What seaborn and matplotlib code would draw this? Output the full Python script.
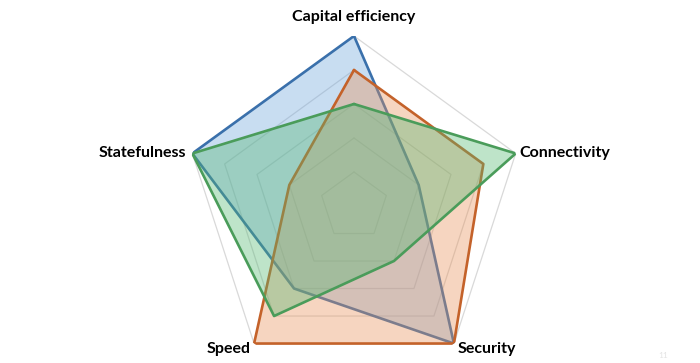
import numpy as np
import pandas as pd
import matplotlib
matplotlib.use("Agg")
import matplotlib.pyplot as plt
import seaborn as sns

categories = ["Capital efficiency", "Connectivity", "Security", "Speed", "Statefulness"]
series_names = ["A", "B", "C"]
values_a = [5, 2, 5, 3, 5]
values_b = [4, 4, 5, 5, 2]
values_c = [3, 5, 2, 4, 5]
grid_levels = [1, 2, 3, 4, 5]

line_colors = ["#3A70AB", "#C4622A", "#4A9C5A"]
fill_colors = ["#6FA6DC", "#E8925A", "#55B873"]

sns.set_style("white")
plt.rcParams["font.family"] = ["Lato", "DejaVu Sans"]

n = len(categories)
angles = np.linspace(0, 2 * np.pi, n, endpoint=False)

rows = []
for name, vals in zip(series_names, [values_a, values_b, values_c]):
    for i, (a, v) in enumerate(zip(list(angles) + [2 * np.pi], list(vals) + [vals[0]])):
        rows.append({"series": name, "theta": a, "value": v, "order": i})
df = pd.DataFrame(rows)

fig = plt.figure(figsize=(7.0, 3.63), dpi=100)
ax = fig.add_axes([184 / 700, (363 - 376) / 363, 340 / 700, 340 / 363], projection="polar")
ax.set_theta_offset(np.pi / 2)
ax.set_theta_direction(-1)
ax.set_ylim(0, 5)
ax.grid(False)
ax.spines["polar"].set_visible(False)
ax.patch.set_alpha(0)

closed = np.append(angles, angles[0])
for lv in grid_levels:
    ax.plot(closed, [lv] * (n + 1), color="#D9D9D9", lw=0.9, zorder=1)

for k, name in enumerate(series_names):
    sub = df[df["series"] == name]
    ax.fill(sub["theta"], sub["value"], color=fill_colors[k], alpha=0.38, lw=0, zorder=2 + 2 * k)
    sns.lineplot(data=sub, x="theta", y="value", sort=False, estimator=None, color=line_colors[k],
                 lw=1.9, ax=ax, legend=False, zorder=3 + 2 * k)
ax.set_xlabel("")
ax.set_ylabel("")
ax.set_xticks([])
ax.set_yticks([])
ax.set_ylim(0, 5)

label_specs = [
    ((0, 19), "center", "center"),
    ((4, 0), "left", "center"),
    ((4, -5), "left", "center"),
    ((-3, -5), "right", "center"),
    ((-6, 0), "right", "center"),
]
for cat, a, (off, ha, va) in zip(categories, angles, label_specs):
    ax.annotate(cat, xy=(a, 5), xytext=off, textcoords="offset pixels",
                ha=ha, va=va, fontsize=11.5, fontweight="bold", color="#000000",
                annotation_clip=False)

fig.text(663 / 700, 1 - 356 / 363, "11", fontsize=6, color="#E4E4E4", ha="center", va="center")

fig.savefig("out.png", dpi=100)
